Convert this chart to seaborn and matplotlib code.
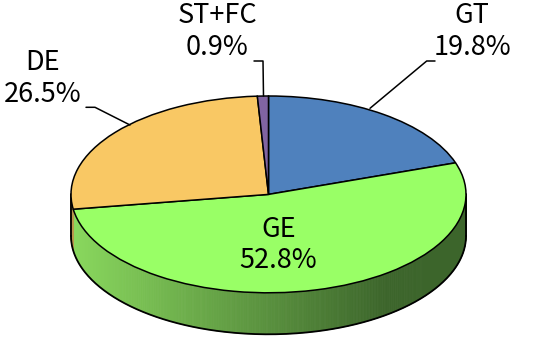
import numpy as np
import matplotlib
matplotlib.use("Agg")
import matplotlib.pyplot as plt
import seaborn as sns
from matplotlib.colors import to_rgb

# ---- data ----
categories = ["GT", "GE", "DE", "ST+FC"]
shares = [19.8, 52.8, 26.5, 0.9]
top_colors = ["#4F81BD", "#99FF66", "#F9C864", "#8064A2"]

sns.set_theme(style="white")
plt.rcParams["font.family"] = ["Noto Sans CJK JP", "DejaVu Sans"]

W, H = 540, 338
fig = plt.figure(figsize=(W / 100, H / 100), dpi=100)
ax = fig.add_axes([0, 0, 1, 1])

# pixel geometry of the top ellipse
cx, cy, rx, ry = 268.5, 194.4, 197.5, 98.4
depth = 41.5 / ry  # side thickness in data-y units
start = 90.0

# ---- side wall (front half only) ----
total = sum(shares)
angles = []
a = start
for v in shares:
    sweep = 360.0 * v / total
    angles.append((a - sweep, a))
    a -= sweep

def side_color(i, theta):
    name = categories[i]
    t = (np.cos(np.radians(theta)) + 1) / 2
    if name == "GE":
        light = np.array(to_rgb("#8AD95E"))
        dark = np.array(to_rgb("#3C652B"))
        f = min(t / 0.8, 1.0)
        return light * (1 - f) + dark * f
    base = np.array(to_rgb(top_colors[i]))
    return base * (0.75 - 0.4 * t)

for i, (a0, a1) in enumerate(angles):
    for off in (0, 360, -360):
        lo = max(a0 + off, 180.0)
        hi = min(a1 + off, 360.0)
        if hi <= lo:
            continue
        n = max(int((hi - lo) / 0.5), 1)
        edges = np.linspace(lo, hi, n + 1)
        for e0, e1 in zip(edges[:-1], edges[1:]):
            th = np.radians(np.linspace(e0, e1, 4))
            xs = np.cos(th)
            ys = np.sin(th)
            px = np.concatenate([xs, xs[::-1]])
            py = np.concatenate([ys, ys[::-1] - depth])
            c = side_color(i, (e0 + e1) / 2)
            ax.fill(px, py, color=c, lw=0.6, ec=c, zorder=1)

# side outline
th = np.radians(np.linspace(180, 360, 300))
ax.plot(np.cos(th), np.sin(th) - depth, color="black", lw=1.3, zorder=2)
ax.plot([-1, -1], [0, -depth], color="black", lw=1.3, zorder=2)
ax.plot([1, 1], [0, -depth], color="black", lw=1.3, zorder=2)

# ---- top face ----
ax.pie(shares, colors=top_colors, startangle=start, counterclock=False,
       radius=1, center=(0, 0),
       wedgeprops=dict(edgecolor="black", linewidth=1.1, zorder=3))

# restore axis mapping (ellipse via unequal scaling)
ax.set_aspect("auto")
ax.set_xlim(-cx / rx, (W - cx) / rx)
ax.set_ylim((cy - H) / ry, cy / ry)
ax.axis("off")

def P(px, py):
    return (px - cx) / rx, (cy - py) / ry

# ---- labels (centre x, baseline of first line, baseline of second line) ----
label_pos = {"GT": (472, 23.3, 55), "GE": (278.5, 236.7, 268.3),
             "DE": (42.5, 70, 101.7), "ST+FC": (217, 23.3, 55)}
leaders = {
    "GT": [(370, 108.3), (426.7, 61), (435, 61)],
    "ST+FC": [(263.5, 96), (263, 61), (254, 61)],
    "DE": [(130, 125), (95, 107.3), (86, 107.3)],
}
for name, v in zip(categories, shares):
    xc, b1, b2 = label_pos[name]
    for txt, b in ((name, b1), (f"{v:.1f}%", b2)):
        x, y = P(xc, b)
        ax.text(x, y, txt, ha="center", va="baseline",
                fontsize=19.5, color="black", zorder=5)
    if name in leaders:
        pts = [P(*p) for p in leaders[name]]
        ax.plot([p[0] for p in pts], [p[1] for p in pts], color="black",
                lw=1.1, zorder=4)

fig.savefig("out.png", dpi=100)
